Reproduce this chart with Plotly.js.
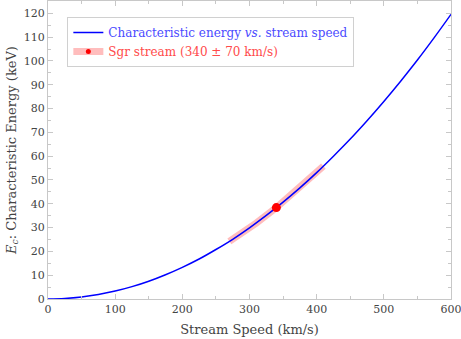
<!DOCTYPE html>
<html><head><meta charset="utf-8">
<script src="https://cdn.plot.ly/plotly-3.0.1.min.js"></script>
<style>html,body{margin:0;padding:0;background:#fff}#c{width:461px;height:339px}</style>
</head><body><div id="c"></div>
<script>
// Curve: stream speed (km/s) vs characteristic energy (keV)
const speed = [0,25,50,75,100,125,150,175,200,225,250,275,300,325,350,375,400,425,450,475,500,525,550,575,600];
const energy = [0,0.21,0.83,1.87,3.32,5.19,7.47,10.2,13.3,16.8,20.8,25.1,29.9,35.1,40.7,46.7,53.1,60.0,67.2,74.9,83.0,91.5,100.4,109.8,119.6];
// Sgr stream band (340 ± 70 km/s)
const sgrSpeed = [270,290,310,340,370,390,410];
const sgrEnergy = [24.2,27.9,31.9,38.4,45.5,50.5,55.8];
const sgrPointSpeed = [340];
const sgrPointEnergy = [38.4];
const xTicks = [0,100,200,300,400,500,600];
const yTicks = [0,10,20,30,40,50,60,70,80,90,100,110,120];

const serif = "'DejaVu Serif', serif";
const traces = [
  {x: sgrSpeed, y: sgrEnergy, mode:'lines', line:{color:'rgba(255,90,90,0.4)', width:7}, showlegend:false, hoverinfo:'skip'},
  {x: speed, y: energy, mode:'lines', line:{color:'#0000ff', width:1.5, shape:'spline'}, name:'Characteristic energy <i>vs.</i> stream speed'},
  {x: sgrPointSpeed, y: sgrPointEnergy, mode:'markers', marker:{color:'#ff0000', size:9}, showlegend:false},
  {x: [null], y: [null], mode:'lines+markers', line:{color:'rgba(255,90,90,0.4)', width:7}, marker:{color:'#ff0000', size:5}, name:'Sgr stream (340 ± 70 km/s)'}
];
const axisCommon = {
  showgrid:false, zeroline:false, showline:true, linecolor:'#c8c8c8', linewidth:1, mirror:'allticks',
  ticks:'inside', ticklen:5, tickcolor:'#c8c8c8', tickfont:{family:serif, size:11, color:'#444'},
  ticklabeloverflow:'allow'
};
const layout = {
  width:461, height:339, margin:{l:48, r:10, t:1, b:40},
  paper_bgcolor:'#fff', plot_bgcolor:'#fff',
  xaxis: Object.assign({}, axisCommon, {range:[0,600], tickvals:xTicks, ticktext:xTicks.map(String),
    minor:{ticks:'inside', dtick:50, ticklen:3, tickcolor:'#c8c8c8'},
    title:{text:'Stream Speed (km/s)', font:{family:serif, size:13, color:'#444'}, standoff:9}}),
  yaxis: Object.assign({}, axisCommon, {range:[0,125.2], tickvals:yTicks, ticktext:yTicks.map(String),
    minor:{ticks:'inside', dtick:5, ticklen:3, tickcolor:'#c8c8c8'},
    title:{text:'<i>E</i><sub><i>c</i></sub>: Characteristic Energy (keV)', font:{family:serif, size:13, color:'#444'}, standoff:4}}),
  legend:{x:0.048, y:0.946, xanchor:'left', yanchor:'top', bgcolor:'#fff', bordercolor:'#d0d0d0', borderwidth:1,
    font:{family:serif, size:12}, tracegroupgap:0},
  showlegend:true
};
Plotly.newPlot('c', traces, layout, {displayModeBar:false, staticPlot:true}).then(()=>{
  const texts = document.querySelectorAll('.legendtext');
  if (texts[0]) texts[0].style.fill = '#4a4aff';
  if (texts[1]) texts[1].style.fill = '#ff4a4a';
});
</script></body></html>
